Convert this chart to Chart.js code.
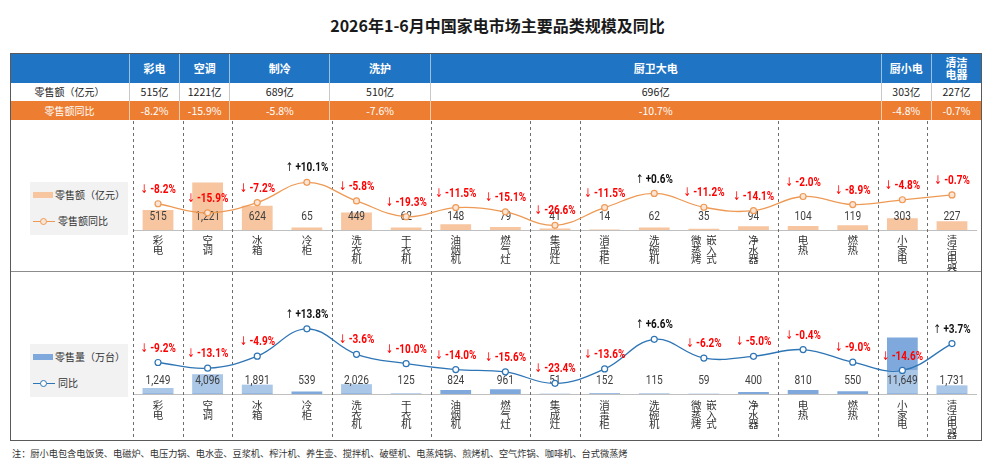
<!DOCTYPE html>
<html>
<head>
<meta charset="utf-8">
<title>2026年1-6月中国家电市场主要品类规模及同比</title>
<script src="https://cdn.jsdelivr.net/npm/chart.js@4.4.1/dist/chart.umd.min.js"></script>
<style>
  html, body { margin: 0; padding: 0; background: #fff; }
  #wrap { position: relative; width: 995px; height: 464px; overflow: hidden; font-family: "Noto Sans CJK SC", sans-serif; color: #222; }
  #wrap div { position: absolute; box-sizing: border-box; }
  #wrap canvas { position: absolute; }
  .title { left: 0; top: 13px; width: 995px; height: 24px; line-height: 24px; text-align: center; font-size: 16px; font-weight: bold; color: #1a1a1a; }
  .cell { text-align: center; white-space: nowrap; }
  .legend { background: #f2f2f2; }
  .legend .txt { font-size: 10px; color: #333; line-height: 14px; white-space: nowrap; }
  .note { left: 12px; top: 446px; font-size: 9.2px; color: #333; white-space: nowrap; line-height: 14px; }
</style>
</head>
<body>
<div id="wrap">
  <div class="title">2026年1-6月中国家电市场主要品类规模及同比</div>

  <canvas id="salesChart" width="854" height="151" style="left:128px;top:121px;"></canvas>
  <canvas id="volumeChart" width="854" height="169" style="left:128px;top:272px;"></canvas>

  <div class="legend" style="left:30px;top:182px;width:98px;height:53px;">
    <div style="left:3px;top:10px;width:20px;height:6px;background:#F7C59F;"></div>
    <div class="txt" style="left:25px;top:6px;">零售额（亿元）</div>
    <div style="left:3px;top:39px;width:22px;height:1.4px;background:#EE9A55;"></div>
    <div style="left:10px;top:36px;width:7px;height:7px;border-radius:50%;border:1.2px solid #EE9A55;background:#FBE5D6;"></div>
    <div class="txt" style="left:28px;top:32px;">零售额同比</div>
  </div>

  <div class="legend" style="left:30px;top:344px;width:98px;height:53px;">
    <div style="left:3px;top:10px;width:20px;height:6px;background:#7FA9DC;"></div>
    <div class="txt" style="left:25px;top:6px;">零售量（万台）</div>
    <div style="left:3px;top:39px;width:22px;height:1.4px;background:#2E75B6;"></div>
    <div style="left:10px;top:36px;width:7px;height:7px;border-radius:50%;border:1.2px solid #2E75B6;background:#fff;"></div>
    <div class="txt" style="left:28px;top:32px;">同比</div>
  </div>

  <div class="note">注：厨小电包含电饭煲、电磁炉、电压力锅、电水壶、豆浆机、榨汁机、养生壶、搅拌机、破壁机、电蒸炖锅、煎烤机、空气炸锅、咖啡机、台式微蒸烤</div>
</div>

<script>
// categories (one per column), a space splits a label into two vertical columns
var categories = ['彩电', '空调', '冰箱', '冷柜', '洗衣机', '干衣机', '油烟机', '燃气灶', '集成灶',
    '消毒柜', '洗碗机', '微蒸烤 嵌入式', '净水器', '电热', '燃热', '小家电', '清洁电器'];

// retail sales (亿元) and yoy (%)
var salesValue = [515, 1221, 624, 65, 449, 62, 148, 79, 41, 14, 62, 35, 94, 104, 119, 303, 227];
var salesYoY = [-8.2, -15.9, -7.2, 10.1, -5.8, -19.3, -11.5, -15.1, -26.6, -11.5, 0.6, -11.2, -14.1, -2.0, -8.9, -4.8, -0.7];

// retail volume (万台) and yoy (%)
var volumeValue = [1249, 4096, 1891, 539, 2026, 125, 824, 961, 51, 152, 115, 59, 400, 810, 550, 11649, 1731];
var volumeYoY = [-9.2, -13.1, -4.9, 13.8, -3.6, -10.0, -14.0, -15.6, -23.4, -13.6, 6.6, -6.2, -5.0, -0.4, -9.0, -14.6, 3.7];

// table groups
var groups = ['彩电', '空调', '制冷', '洗护', '厨卫大电', '厨小电', '清洁<br>电器'];
var groupSpan = [1, 1, 2, 2, 9, 1, 1];
var groupSales = ['515亿', '1221亿', '689亿', '510亿', '696亿', '303亿', '227亿'];
var groupYoY = ['-8.2%', '-15.9%', '-5.8%', '-7.6%', '-10.7%', '-4.8%', '-0.7%'];

// column index where a dashed divider starts
var dividers = [0, 1, 2, 4, 6, 8, 9, 13, 15, 16];

var CJK = '"Noto Sans CJK SC", sans-serif';
var NUM = 'Roboto, "Noto Sans", sans-serif';
var ARROW = '"DejaVu Sans", sans-serif';

// vertical tick labels
var tickLabels = categories.map(function(name) {
    var parts = name.split(' ');
    if (parts.length === 1) return name.split('');
    var rows = [];
    for (var i = 0; i < Math.max(parts[0].length, parts[1].length); i++) {
        rows.push((parts[0][i] || '  ') + '  ' + (parts[1][i] || ''));
    }
    return rows;
});

// ---- table ----
var wrap = document.getElementById('wrap');
function addDiv(css, html) {
    var d = document.createElement('div');
    d.style.cssText = css;
    d.innerHTML = html || '';
    wrap.appendChild(d);
    return d;
}

var tLeft = 10, colLeft = 129, slot = 852 / categories.length;
var rows = [
    { top: 53, h: 30, bg: '#1F74C4', color: '#fff', label: '', cells: groups, weight: 'bold', line: 'rgba(255,255,255,0.55)', size: 11 },
    { top: 83, h: 18, bg: '#fff', color: '#222', label: '零售额（亿元）', cells: groupSales, weight: 'normal', line: '#c8c8c8', size: 10.5 },
    { top: 101, h: 19, bg: '#ED7D31', color: '#fff', label: '零售额同比', cells: groupYoY, weight: 'normal', line: 'rgba(255,255,255,0.6)', size: 10.5 }
];
rows.forEach(function(r) {
    addDiv('left:' + tLeft + 'px;top:' + r.top + 'px;width:' + (982 - tLeft) + 'px;height:' + r.h + 'px;background:' + r.bg + ';');
    addDiv('left:' + tLeft + 'px;top:' + r.top + 'px;width:' + (colLeft - tLeft) + 'px;height:' + r.h + 'px;line-height:' + r.h + 'px;' +
        'color:' + r.color + ';font-size:10px;', r.label).className = 'cell';
    var start = 0;
    r.cells.forEach(function(txt, i) {
        var l = colLeft + start * slot, w = groupSpan[i] * slot;
        var multi = txt.indexOf('<br>') >= 0;
        var d = addDiv('left:' + l + 'px;top:' + r.top + 'px;width:' + w + 'px;height:' + r.h + 'px;' +
            'line-height:' + (multi ? '12px;padding-top:3px' : r.h + 'px') + ';color:' + r.color + ';font-size:' + r.size + 'px;' +
            'font-weight:' + r.weight + ';border-left:1px solid ' + r.line + ';', txt);
        d.className = 'cell';
        start += groupSpan[i];
    });
});

// frame and separator between the two charts
addDiv('left:10px;top:271px;width:972px;height:1px;background:#8c8c8c;z-index:3;');
addDiv('left:10px;top:53px;width:972px;height:388px;border:1.5px solid #5a5a5a;z-index:4;');

// draw text squeezed horizontally (the source uses a narrow face)
function narrowText(ctx, txt, x, y, sx) {
    ctx.save();
    ctx.translate(x, y);
    ctx.scale(sx, 1);
    ctx.fillText(txt, 0, 0);
    ctx.restore();
}

// ---- charts ----
var marksPlugin = {
    id: 'marks',
    beforeDatasetsDraw: function(chart) {
        var ctx = chart.ctx, x = chart.scales.x, area = chart.chartArea;
        ctx.save();
        ctx.strokeStyle = '#6e6e6e';
        ctx.lineWidth = 1;
        ctx.setLineDash([3, 3]);
        dividers.forEach(function(i) {
            var px = i === 0 ? area.left : (x.getPixelForValue(i - 1) + x.getPixelForValue(i)) / 2;
            px = Math.round(px) + 0.5;
            ctx.beginPath();
            ctx.moveTo(px, 0);
            ctx.lineTo(px, chart.height);
            ctx.stroke();
        });
        ctx.restore();
    },
    afterDatasetDraw: function(chart, args, opts) {
        if (args.meta.type !== 'bar') return;
        var ctx = chart.ctx, area = chart.chartArea;
        var y = area.bottom - 13;
        var values = chart.data.datasets[args.index].data;
        ctx.save();
        args.meta.data.forEach(function(bar, i) {
            if (opts.overlay && bar.y < y + 8) {
                ctx.fillStyle = 'rgba(255,255,255,0.35)';
                var top = Math.max(bar.y, y - 11);
                ctx.fillRect(bar.x - bar.width / 2, top, bar.width, area.bottom - 0.5 - top);
            }
            ctx.fillStyle = '#404040';
            ctx.font = '12px ' + NUM;
            ctx.textAlign = 'center';
            ctx.textBaseline = 'middle';
            narrowText(ctx, values[i].toLocaleString('en-US'), bar.x, y, 0.85);
        });
        ctx.restore();
    },
    afterDatasetsDraw: function(chart) {
        var ctx = chart.ctx;
        var meta = chart.getDatasetMeta(0);
        var data = chart.data.datasets[0].data;
        var sx = 0.8;
        ctx.save();
        ctx.textBaseline = 'middle';
        ctx.textAlign = 'left';
        meta.data.forEach(function(pt, i) {
            var v = data[i];
            var arrow = v < 0 ? '↓' : '↑';
            var txt = v < 0 ? ' ' + v.toFixed(1) + '%' : ' +' + v.toFixed(1) + '%';
            ctx.font = '12px ' + ARROW;
            var aw = ctx.measureText(arrow).width * 0.75;
            ctx.font = 'bold 12.5px ' + NUM;
            var tw = ctx.measureText(txt).width * sx;
            var x0 = pt.x - (aw + tw) / 2, y = pt.y - 14;
            ctx.fillStyle = v < 0 ? '#FF0000' : '#111';
            ctx.font = '12px ' + ARROW;
            narrowText(ctx, arrow, x0, y, 0.75);
            ctx.font = 'bold 12.5px ' + NUM;
            narrowText(ctx, txt, x0 + aw, y, sx);
        });
        ctx.restore();
    }
};

function buildChart(id, cfg) {
    return new Chart(document.getElementById(id), {
        data: {
            labels: tickLabels,
            datasets: [{
                type: 'line',
                label: cfg.lineLabel,
                data: cfg.pct,
                yAxisID: 'yPct',
                order: 1,
                borderColor: cfg.lineColor,
                borderWidth: 1.3,
                tension: 0.4,
                pointRadius: 3,
                pointBorderWidth: 1.2,
                pointBackgroundColor: cfg.pointFill,
                pointBorderColor: cfg.lineColor
            }, {
                type: 'bar',
                label: cfg.barLabel,
                data: cfg.values,
                yAxisID: 'yBar',
                order: 2,
                backgroundColor: cfg.barColor,
                barPercentage: 0.62,
                categoryPercentage: 1
            }]
        },
        options: {
            responsive: false,
            animation: false,
            layout: { padding: { left: 1, right: 1, top: 0, bottom: 0 } },
            plugins: {
                legend: { display: false },
                tooltip: { enabled: false },
                marks: { overlay: cfg.overlay }
            },
            scales: {
                x: {
                    offset: true,
                    grid: { display: false, drawTicks: false },
                    border: { display: true, color: '#bfbfbf' },
                    ticks: {
                        autoSkip: false,
                        maxRotation: 0,
                        padding: cfg.tickPad,
                        color: '#333',
                        font: { family: CJK, size: 10.5, lineHeight: 0.93 }
                    },
                    afterFit: function(axis) { axis.height = cfg.axisH; }
                },
                yBar: { display: false, min: 0, max: cfg.barMax },
                yPct: { display: false, min: cfg.pctMin, max: cfg.pctMax }
            }
        },
        plugins: [marksPlugin]
    });
}

buildChart('salesChart', {
    lineLabel: '零售额同比', barLabel: '零售额（亿元）',
    values: salesValue, pct: salesYoY,
    lineColor: '#EE9A55', pointFill: '#FBE5D6', barColor: '#F7C59F',
    barMax: 2662, pctMin: -30.6, pctMax: 58.0,
    axisH: 42, tickPad: 5, overlay: false
});

buildChart('volumeChart', {
    lineLabel: '同比', barLabel: '零售量（万台）',
    values: volumeValue, pct: volumeYoY,
    lineColor: '#2E75B6', pointFill: '#ffffff', barColor: '#7FA9DC',
    barMax: 24088, pctMin: -30.7, pctMax: 49.0,
    axisH: 47, tickPad: 6, overlay: true
});
</script>
</body>
</html>
